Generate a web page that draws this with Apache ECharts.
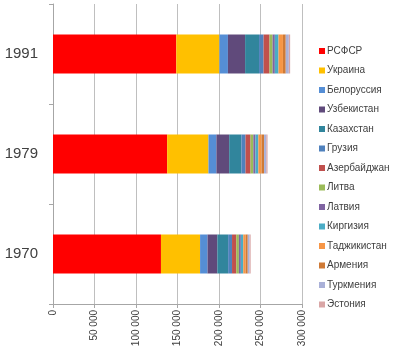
<!DOCTYPE html>
<html><head><meta charset="utf-8">
<script src="https://cdn.jsdelivr.net/npm/echarts@6/dist/echarts.min.js"></script>
<style>html,body{margin:0;padding:0;background:#fff}#c{width:400px;height:355px}</style>
</head><body><div id="c"></div>
<script>
const years = ['1970', '1979', '1991'];
const republics = ['РСФСР','Украина','Белоруссия','Узбекистан','Казахстан','Грузия','Азербайджан','Литва','Латвия','Киргизия','Таджикистан','Армения','Туркмения','Эстония'];
const colors = ['#FF0000','#FFC000','#558ED5','#604A7B','#31859C','#4F81BD','#C0504D','#9BBB59','#8064A2','#4BACC6','#F79646','#CF7A36','#AAB1D8','#D9A6A6'];
// population, thousands: [1970, 1979, 1991]
const rsfsr       = [130079, 137551, 148543];
const ukraine     = [47126, 49755, 51944];
const belarus     = [9002, 9560, 10260];
const uzbekistan  = [11800, 15391, 20708];
const kazakhstan  = [13009, 14684, 16793];
const georgia     = [4686, 5015, 5464];
const azerbaijan  = [5117, 6028, 7137];
const lithuania   = [3128, 3398, 3728];
const latvia      = [2364, 2521, 2681];
const kirghizia   = [2933, 3529, 4422];
const tajikistan  = [2900, 3806, 5358];
const armenia     = [2492, 3031, 3376];
const turkmenia   = [2159, 2759, 3714];
const estonia     = [1356, 1466, 1582];
const xTicks = [0, 50000, 100000, 150000, 200000, 250000, 300000];

const values = [rsfsr, ukraine, belarus, uzbekistan, kazakhstan, georgia, azerbaijan, lithuania, latvia, kirghizia, tajikistan, armenia, turkmenia, estonia];

const chart = echarts.init(document.getElementById('c'));
chart.setOption({
  animation: false,
  color: colors,
  grid: {left: 53, right: 98, top: 4, bottom: 51},
  legend: {
    orient: 'vertical', left: 314, top: 40,
    itemWidth: 6, itemHeight: 6, itemGap: 7.5,
    icon: 'rect',
    textStyle: {fontFamily: 'Liberation Sans', fontSize: 10, color: '#404040', lineHeight: 12, padding: [0,0,0,-3]},
    data: republics
  },
  xAxis: {
    type: 'value', min: xTicks[0], max: xTicks[xTicks.length-1], interval: xTicks[1]-xTicks[0],
    axisLine: {show: true, lineStyle: {color: '#A6A6A6'}},
    axisTick: {show: true, length: 4, lineStyle: {color: '#A6A6A6'}},
    splitLine: {show: true, lineStyle: {color: '#BFBFBF'}},
    axisLabel: {
      rotate: 90, margin: 6, fontFamily: 'Liberation Sans', fontSize: 10, color: '#404040',
      formatter: v => v === 0 ? '0' : String(v).replace(/\B(?=(\d{3})+(?!\d))/g, ' ')
    }
  },
  yAxis: {
    type: 'category', data: years,
    axisLine: {show: true, lineStyle: {color: '#A6A6A6'}},
    axisTick: {show: true, length: 4, lineStyle: {color: '#A6A6A6'}},
    axisLabel: {fontFamily: 'Liberation Sans', fontSize: 15, color: '#404040', margin: 15}
  },
  series: republics.map((name, i) => ({
    name, type: 'bar', stack: 'total', barWidth: 39,
    data: values[i]
  }))
});
</script></body></html>
